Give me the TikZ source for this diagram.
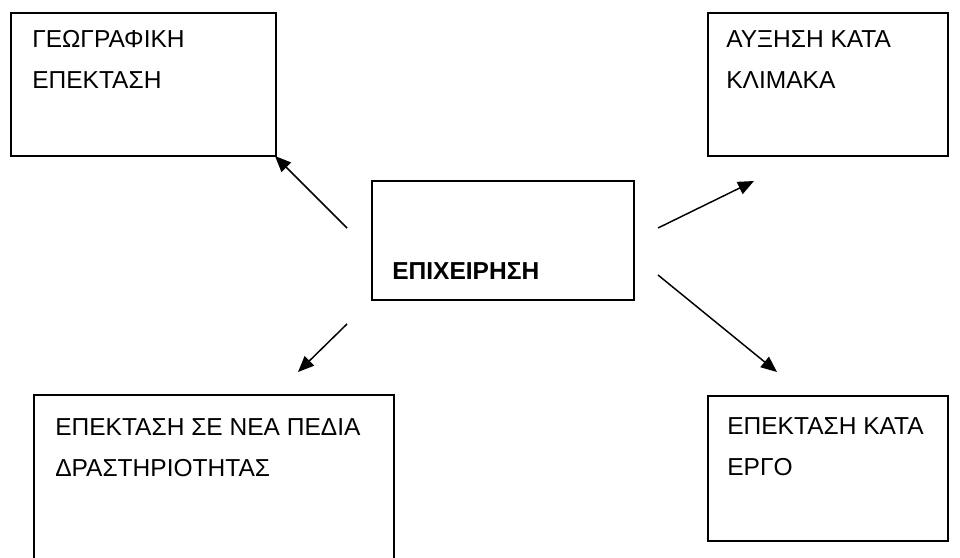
\documentclass[tikz,border=0pt]{standalone}
\usepackage{fontspec}
\setmainfont{Liberation Sans}
\usetikzlibrary{arrows.meta}
\begin{document}
\begin{tikzpicture}[x=0.75pt,y=-0.75pt,
  boxshape/.style={draw=black,line width=1.2pt,rectangle,inner sep=0pt,anchor=north west},
  label/.style={inner sep=0pt,anchor=base west,align=left,
    font=\fontsize{18.4pt}{30.75pt}\selectfont},
  conn/.style={line width=1.1pt,-{Triangle[length=12pt,width=10pt]}}]
\useasboundingbox (0,0) rectangle (960,557);
% boxes
\node[boxshape,minimum width=198.75pt,minimum height=107.25pt] (geo) at (10,12) {};
\node[boxshape,minimum width=180pt,minimum height=107.25pt] (scale) at (707,12) {};
\node[boxshape,minimum width=196.5pt,minimum height=89.25pt] (firm) at (371,180) {};
\draw[line width=1.2pt] (34,560) coordinate (blA) -- (34,395) coordinate (blB) -- (394,395) coordinate (blC) -- (394,560) coordinate (blD);
\node[boxshape,minimum width=180pt,minimum height=108.75pt] (work) at (707,395) {};
% texts (base anchor = baseline of last line)
\node[label] (tgeo) at (32,88) {ΓΕΩΓΡΑΦΙΚΗ\\ΕΠΕΚΤΑΣΗ};
\node[label] (tscale) at (726,88) {ΑΥΞΗΣΗ ΚΑΤΑ\\ΚΛΙΜΑΚΑ};
\node[label,font=\fontsize{18.4pt}{30.75pt}\selectfont\bfseries] (tfirm) at (392,279) {ΕΠΙΧΕΙΡΗΣΗ};
\node[label] (tnew) at (55,476) {ΕΠΕΚΤΑΣΗ ΣΕ ΝΕΑ ΠΕΔΙΑ\\ΔΡΑΣΤΗΡΙΟΤΗΤΑΣ};
\node[label] (twork) at (727,475) {ΕΠΕΚΤΑΣΗ ΚΑΤΑ\\ΕΡΓΟ};
% arrow ends
\coordinate (a1s) at (347,228); \coordinate (a1e) at (275,156);
\coordinate (a2s) at (658,228); \coordinate (a2e) at (754,181);
\coordinate (a3s) at (347,324); \coordinate (a3e) at (298,372);
\coordinate (a4s) at (658,275); \coordinate (a4e) at (777,372);
\draw[conn] (a1s) -- (a1e);
\draw[conn] (a2s) -- (a2e);
\draw[conn] (a3s) -- (a3e);
\draw[conn] (a4s) -- (a4e);
\end{tikzpicture}
\end{document}
